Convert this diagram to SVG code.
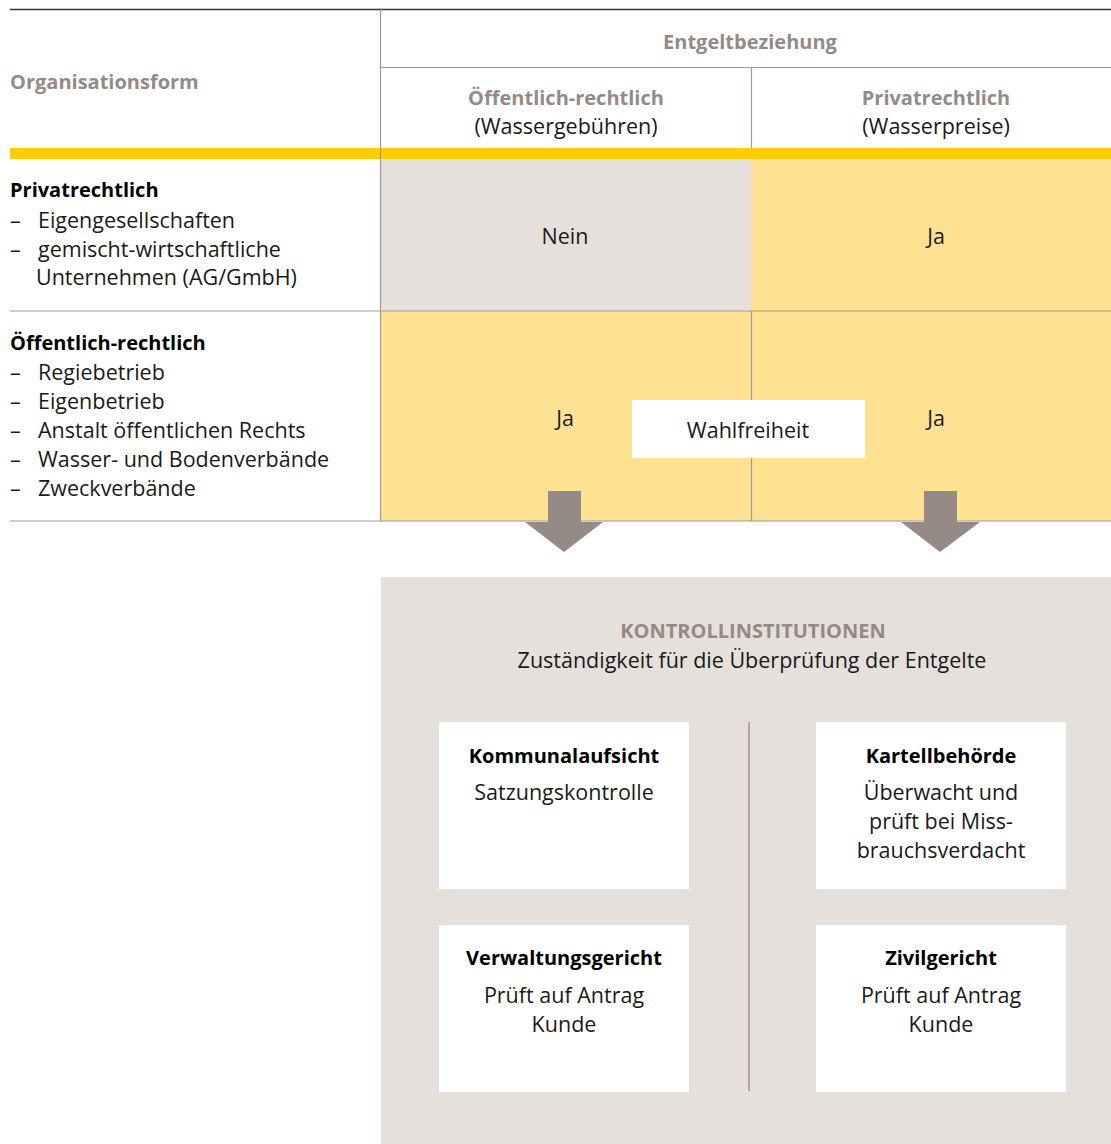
<svg xmlns="http://www.w3.org/2000/svg" width="1111" height="1144" viewBox="0 0 1111 1144">
<style>
text{font-family:"Open Sans","Noto Sans","Liberation Sans",sans-serif;font-size:21.5px;fill:#1a1a1a}
.h{font-weight:bold;fill:#958a85;font-size:20px}
.b{font-weight:bold;fill:#000;font-size:20px}
.c{text-anchor:middle}
.ln{stroke:#a39994;stroke-width:1.2;fill:none}
.box{fill:#fff}
.arr{fill:#958a85}
</style>
<rect width="1111" height="1144" fill="#fff"/>
<g id="table">
<rect x="380" y="159" width="371" height="152" fill="#e5e0dc"/>
<rect x="751" y="159" width="360" height="152" fill="#ffe193"/>
<rect x="380" y="311" width="731" height="210" fill="#ffe193"/>
<rect x="10" y="148" width="1101" height="11" fill="#ffcc00"/>
<line x1="10" y1="9.5" x2="1111" y2="9.5" stroke="#333" stroke-width="1.5"/>
<line class="ln" x1="380.5" y1="8" x2="380.5" y2="521"/>
<line class="ln" x1="381" y1="67.5" x2="1111" y2="67.5"/>
<line class="ln" x1="751.5" y1="67" x2="751.5" y2="148"/>
<line class="ln" x1="751.5" y1="311" x2="751.5" y2="521"/>
<line class="ln" x1="10" y1="311" x2="1111" y2="311"/>
<line class="ln" x1="10" y1="521" x2="1111" y2="521"/>
<text class="h" x="10" y="89">Organisationsform</text>
<text class="h c" x="750" y="49">Entgeltbeziehung</text>
<text class="h c" x="566" y="105">Öffentlich-rechtlich</text>
<text class="c" x="566" y="134">(Wassergebühren)</text>
<text class="h c" x="936" y="105">Privatrechtlich</text>
<text class="c" x="936" y="134">(Wasserpreise)</text>
<text class="b" x="10" y="197">Privatrechtlich</text>
<text x="10" y="228">–</text><text x="38" y="228">Eigengesellschaften</text>
<text x="10" y="257">–</text><text x="38" y="257">gemischt-wirtschaftliche</text>
<text x="36" y="285">Unternehmen (AG/GmbH)</text>
<text class="b" x="10" y="350">Öffentlich-rechtlich</text>
<text x="10" y="380">–</text><text x="38" y="380">Regiebetrieb</text>
<text x="10" y="409">–</text><text x="38" y="409">Eigenbetrieb</text>
<text x="10" y="438">–</text><text x="38" y="438">Anstalt öffentlichen Rechts</text>
<text x="10" y="467">–</text><text x="38" y="467">Wasser- und Bodenverbände</text>
<text x="10" y="496">–</text><text x="38" y="496">Zweckverbände</text>
<text class="c" x="565" y="244">Nein</text>
<text class="c" x="936" y="244">Ja</text>
<text class="c" x="565" y="426">Ja</text>
<text class="c" x="936" y="426">Ja</text>
</g>
<g id="wahlfreiheit">
<rect class="box" x="632" y="400" width="233" height="58"/>
<text class="c" x="748" y="438">Wahlfreiheit</text>
</g>
<g id="connectors">
<polygon class="arr" points="548,491 581,491 581,522 603,522 564,552 525,522 548,522"/>
<polygon class="arr" points="924,491 957,491 957,522 980,522 940,552 901,522 924,522"/>
</g>
<g id="kontroll">
<rect x="381" y="577" width="730" height="567" fill="#e5e0dc"/>
<text class="h c" x="753" y="638">KONTROLLINSTITUTIONEN</text>
<text class="c" x="752" y="668">Zuständigkeit für die Überprüfung der Entgelte</text>
<line x1="749" y1="722" x2="749" y2="1091" stroke="#b0a6a2" stroke-width="2"/>
</g>
<g id="kommunalaufsicht">
<rect class="box" x="439" y="722" width="250" height="167"/>
<text class="b c" x="564" y="763">Kommunalaufsicht</text>
<text class="c" x="564" y="800">Satzungskontrolle</text>
</g>
<g id="kartellbehoerde">
<rect class="box" x="816" y="722" width="250" height="167"/>
<text class="b c" x="941" y="763">Kartellbehörde</text>
<text class="c" x="941" y="800">Überwacht und</text>
<text class="c" x="941" y="829">prüft bei Miss-</text>
<text class="c" x="941" y="858">brauchsverdacht</text>
</g>
<g id="verwaltungsgericht">
<rect class="box" x="439" y="925" width="250" height="167"/>
<text class="b c" x="564" y="965">Verwaltungsgericht</text>
<text class="c" x="564" y="1003">Prüft auf Antrag</text>
<text class="c" x="564" y="1032">Kunde</text>
</g>
<g id="zivilgericht">
<rect class="box" x="816" y="925" width="250" height="167"/>
<text class="b c" x="941" y="965">Zivilgericht</text>
<text class="c" x="941" y="1003">Prüft auf Antrag</text>
<text class="c" x="941" y="1032">Kunde</text>
</g>
</svg>
